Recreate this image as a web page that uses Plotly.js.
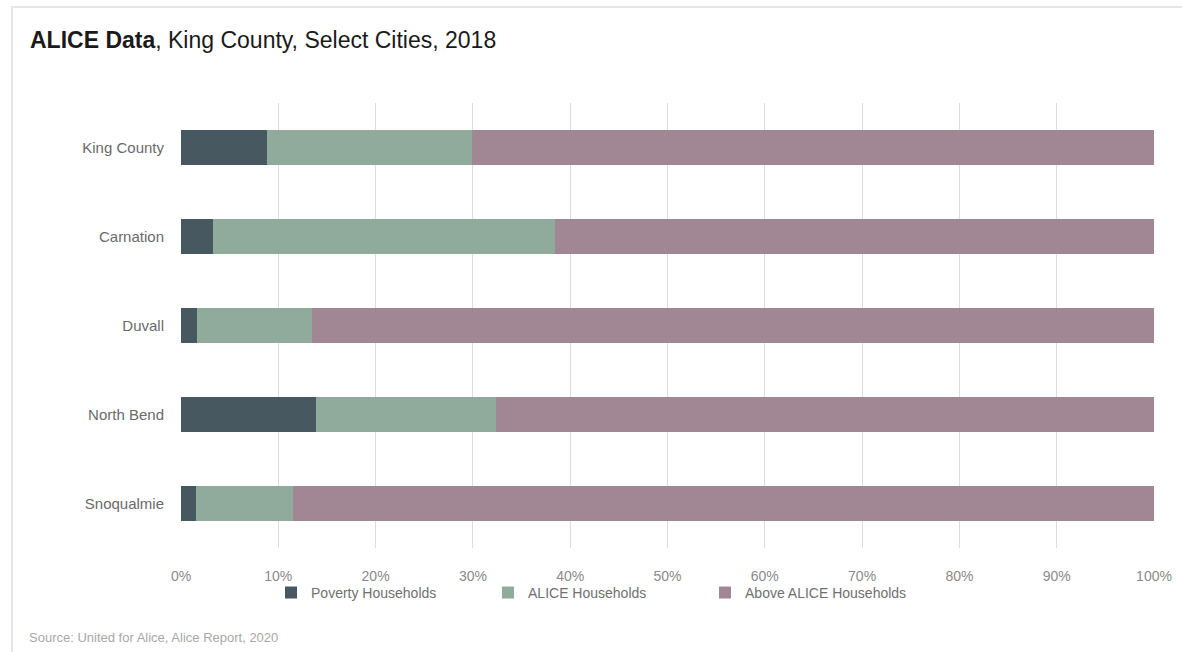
<!DOCTYPE html>
<html>
<head>
<meta charset="utf-8">
<script src="https://cdn.plot.ly/plotly-3.0.1.min.js"></script>
<style>
html,body{margin:0;padding:0;background:#fff;}
#wrap{position:relative;width:1182px;height:652px;}
#chart{width:1182px;height:652px;}
#frame{position:absolute;left:11px;top:6px;width:1180px;height:660px;border-left:2px solid #e6e6e6;border-top:2px solid #e6e6e6;pointer-events:none;}
</style>
</head>
<body>
<div id="wrap"><div id="chart"></div><div id="frame"></div></div>
<script>
const cities = ["King County", "Carnation", "Duvall", "North Bend", "Snoqualmie"];
const povertyPct = [8.8, 3.3, 1.6, 13.9, 1.5];
const alicePct = [21.1, 35.1, 11.9, 18.5, 10.0];
const abovePct = [70.1, 61.6, 86.5, 67.6, 88.5];
const tickVals = [0, 0.1, 0.2, 0.3, 0.4, 0.5, 0.6, 0.7, 0.8, 0.9, 1.0];
const tickText = ["0%", "10%", "20%", "30%", "40%", "50%", "60%", "70%", "80%", "90%", "100%"];

const toFrac = a => a.map(v => v / 100);
const font = "'Liberation Sans Narrow', 'Arial Narrow', 'Liberation Sans', Arial, sans-serif";

const traces = [
  {name: "Poverty Households", x: toFrac(povertyPct), color: "#475861"},
  {name: "ALICE Households", x: toFrac(alicePct), color: "#90aa9b"},
  {name: "Above ALICE Households", x: toFrac(abovePct), color: "#a18794"}
].map(s => ({
  type: "bar", orientation: "h", name: s.name, x: s.x, y: cities,
  marker: {color: s.color, line: {width: 0}}, width: 0.39,
  hoverinfo: "x+y+name"
}));

const layout = {
  width: 1182, height: 652,
  paper_bgcolor: "#ffffff", plot_bgcolor: "#ffffff",
  barmode: "stack",
  margin: {l: 181, r: 28, t: 103, b: 104},
  title: {
    text: "<b>ALICE Data</b>, King County, Select Cities, 2018",
    x: 0, xref: "container", xanchor: "left", y: 0.938, yanchor: "middle",
    pad: {l: 30},
    font: {family: "'Liberation Sans', Arial, sans-serif", size: 23, color: "#1a1a1a"}
  },
  xaxis: {
    range: [0, 1], tickvals: tickVals, ticktext: tickText,
    showgrid: true, gridcolor: "#dcdcdc", gridwidth: 1,
    zeroline: false, showline: false,
    ticks: "", ticklen: 0, ticklabelstandoff: 18,
    tickfont: {family: font, size: 14, color: "#8a8a8a"},
    fixedrange: true
  },
  yaxis: {
    categoryorder: "array", categoryarray: cities, autorange: "reversed",
    showgrid: false, zeroline: false, showline: false,
    ticks: "", ticklabelstandoff: 16,
    tickfont: {family: font, size: 15, color: "#6a6a6a"},
    fixedrange: true
  },
  legend: {
    orientation: "h", x: 0.0925, xanchor: "left", y: -0.065, yanchor: "top",
    bgcolor: "rgba(0,0,0,0)",
    font: {family: font, size: 14, color: "#707070"},
    entrywidth: 172, entrywidthmode: "pixels",
    itemwidth: 30, traceorder: "normal"
  },
  showlegend: true,
  annotations: [{
    text: "Source: United for Alice, Alice Report, 2020",
    xref: "paper", yref: "paper", x: -0.158, y: -0.2, xanchor: "left", yanchor: "middle",
    showarrow: false,
    font: {family: font, size: 13, color: "#a8a8a8"}
  }]
};

Plotly.newPlot("chart", traces, layout, {displayModeBar: false, staticPlot: true});
</script>
</body>
</html>
